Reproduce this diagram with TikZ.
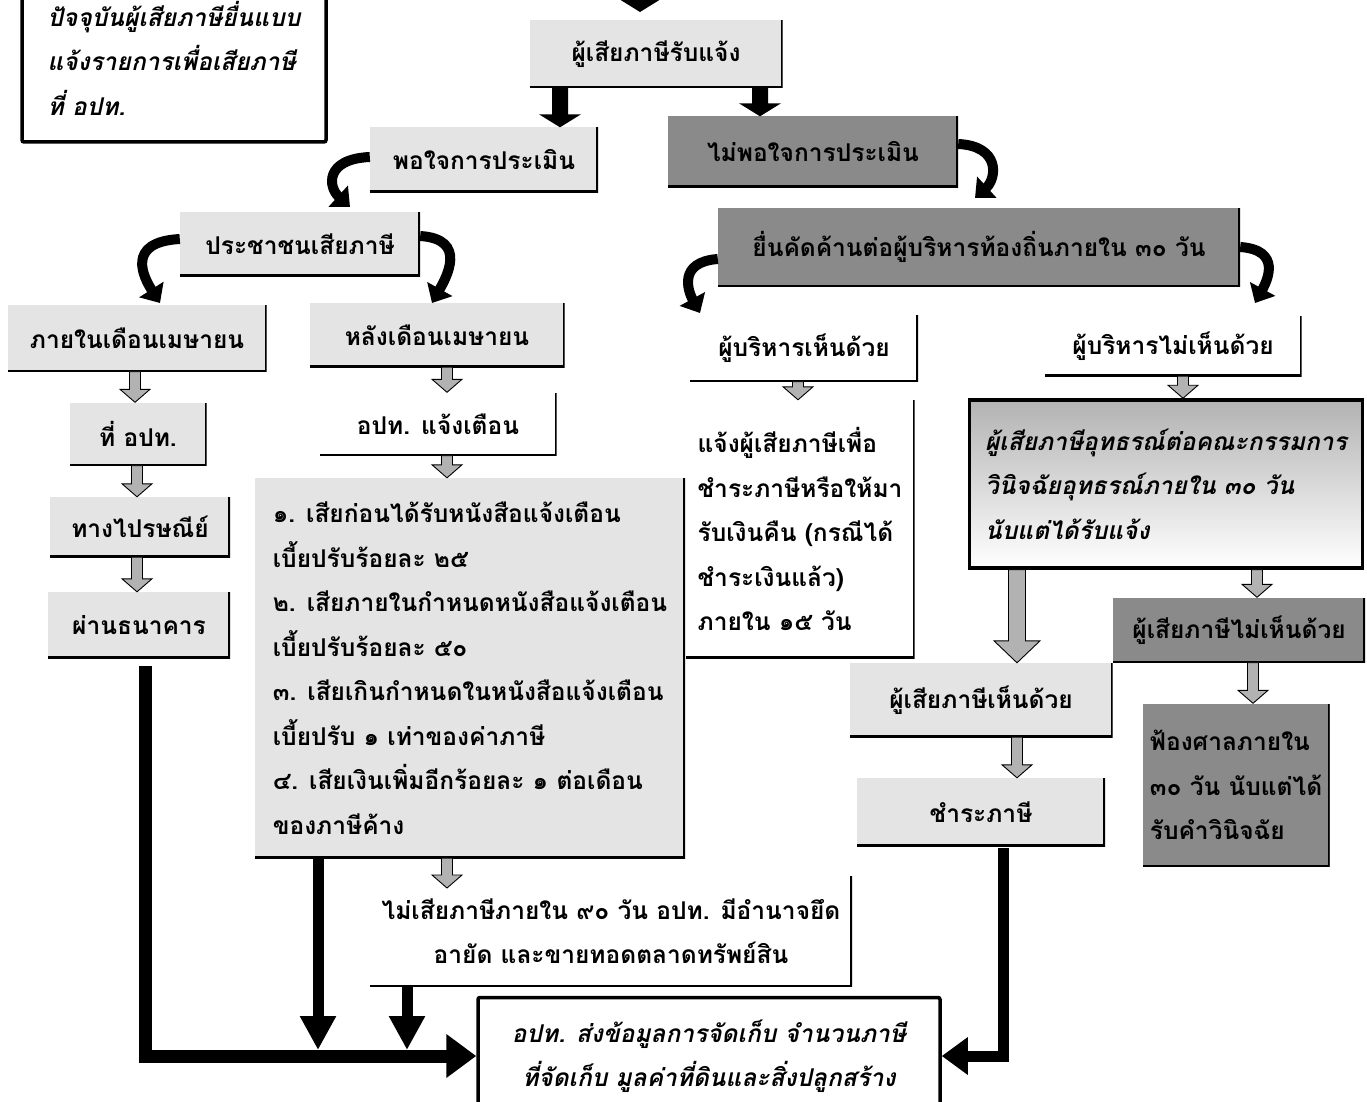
\documentclass[tikz,border=0pt]{standalone}
\usepackage{fontspec}
\newfontfamily\thaifont[Script=Thai]{Loma}
\usetikzlibrary{arrows.meta,calc}
\definecolor{boxlight}{HTML}{E4E4E4}
\definecolor{boxdark}{HTML}{8A8A8A}
\definecolor{arrowgrey}{HTML}{B2B2B2}
\tikzset{
  base/.style={rectangle, inner sep=0pt, align=left,
    font=\thaifont\bfseries\fontsize{24.5}{44.5}\selectfont},
  edgelines/.style={path picture={\draw[line width=4pt]
      (path picture bounding box.north east) -- (path picture bounding box.south east)
      -- (path picture bounding box.south west);}},
  lightbox/.style={base, fill=boxlight, edgelines},
  darkbox/.style={base, fill=boxdark, edgelines},
  whitebox/.style={base, edgelines},
  framebox/.style={base, draw, line width=3.5pt, rounded corners=2pt, fill=white,
    font=\thaifont\bfseries\itshape\fontsize{24.5}{44.5}\selectfont},
  curvarrow/.style={line width=10pt, -{Triangle[width=28pt,length=16pt]}},
  feedline/.style={line width=11pt, -{Triangle[width=34pt,length=34pt]}},
  mainline/.style={line width=13pt, -{Triangle[width=42pt,length=30pt]}},
}
% hollow grey down arrow: #1 x (pt), #2 from node, #3 to node
\newcommand\harrowgen[7]{\path let \p1=(#2), \p2=(#3) in
  [draw=black, line width=0.9pt, fill=arrowgrey]
  (#1pt-#4,\y1) -- (#1pt+#4,\y1) -- (#1pt+#4,\y2+#6) -- (#1pt+#5,\y2+#6)
  -- (#1pt,\y2) -- (#1pt-#5,\y2+#6) -- (#1pt-#4,\y2+#6) -- cycle;}
\newcommand\harrow[3]{\harrowgen{#1}{#2}{#3}{5.5pt}{15pt}{13pt}{}}
% black block down arrow
\newcommand\barrow[3]{\path let \p1=(#2), \p2=(#3) in
  [fill=black]
  (#1pt-8pt,\y1) -- (#1pt+8pt,\y1) -- (#1pt+8pt,\y2+13pt) -- (#1pt+21pt,\y2+13pt)
  -- (#1pt,\y2) -- (#1pt-21pt,\y2+13pt) -- (#1pt-8pt,\y2+13pt) -- cycle;}
\begin{document}
\begin{tikzpicture}[x=1pt,y=-1pt]
\clip (0,0) rectangle (1367,1102);
\fill[white] (0,0) rectangle (1367,1102);

% ---------- nodes ----------
\node[framebox, minimum width=304pt, minimum height=168pt] (tl) at (174,58)
  {ปัจจุบันผู้เสียภาษียื่นแบบ\\แจ้งรายการเพื่อเสียภาษี\\ที่ อปท.};
\coordinate (topin) at (640,-40);
\node[lightbox, minimum width=253pt, minimum height=68pt] (rb) at (656,54) {ผู้เสียภาษีรับแจ้ง};
\node[lightbox, minimum width=228pt, minimum height=65pt] (pj) at (484,160) {พอใจการประเมิน};
\node[darkbox, minimum width=290pt, minimum height=71pt] (npj) at (813,152) {ไม่พอใจการประเมิน};
\node[lightbox, minimum width=240pt, minimum height=64pt] (ps) at (300,244) {ประชาชนเสียภาษี};
\node[lightbox, minimum width=259pt, minimum height=67pt] (in4) at (137,338) {ภายในเดือนเมษายน};
\node[lightbox, minimum width=255pt, minimum height=64pt] (af4) at (437,335) {หลังเดือนเมษายน};
\node[lightbox, minimum width=137pt, minimum height=63pt] (ap) at (138,434) {ที่ อปท.};
\node[whitebox, minimum width=237pt, minimum height=63pt] (aw) at (438,424) {อปท. แจ้งเตือน};
\node[lightbox, minimum width=180pt, minimum height=60pt] (post) at (140,527) {ทางไปรษณีย์};
\node[lightbox, minimum width=182pt, minimum height=66pt] (bank) at (139,625) {ผ่านธนาคาร};
\node[lightbox, minimum width=430pt, minimum height=380pt] (list) at (470,668)
  {๑. เสียก่อนได้รับหนังสือแจ้งเตือน\\เบี้ยปรับร้อยละ ๒๕\\๒. เสียภายในกำหนดหนังสือแจ้งเตือน\\เบี้ยปรับร้อยละ ๕๐\\๓. เสียเกินกำหนดในหนังสือแจ้งเตือน\\เบี้ยปรับ ๑ เท่าของค่าภาษี\\๔. เสียเงินเพิ่มอีกร้อยละ ๑ ต่อเดือน\\ของภาษีค้าง};
\node[whitebox, minimum width=482pt, minimum height=111pt, align=center] (nopay) at (611,931)
  {ไม่เสียภาษีภายใน ๙๐ วัน อปท. มีอำนาจยึด\\อายัด และขายทอดตลาดทรัพย์สิน};
\node[framebox, minimum width=462pt, minimum height=117pt, align=center] (fin) at (709,1056)
  {อปท. ส่งข้อมูลการจัดเก็บ จำนวนภาษี\\ที่จัดเก็บ มูลค่าที่ดินและสิ่งปลูกสร้าง};

\node[darkbox, minimum width=522pt, minimum height=79pt] (obj) at (979,247) {ยื่นคัดค้านต่อผู้บริหารท้องถิ่นภายใน ๓๐ วัน};
\node[whitebox, minimum width=228pt, minimum height=67pt] (agree) at (804,348) {ผู้บริหารเห็นด้วย};
\node[whitebox, minimum width=257pt, minimum height=60pt] (disagree) at (1173,346) {ผู้บริหารไม่เห็นด้วย};
\node[whitebox, minimum width=229pt, minimum height=258pt] (notify) at (800,529)
  {แจ้งผู้เสียภาษีเพื่อ\\ชำระภาษีหรือให้มา\\รับเงินคืน (กรณีได้\\ชำระเงินแล้ว)\\ภายใน ๑๕ วัน};
\node[framebox, minimum width=393pt, minimum height=168pt, rounded corners=0pt,
  top color=gray!60, bottom color=white] (appeal) at (1166,484)
  {ผู้เสียภาษีอุทธรณ์ต่อคณะกรรมการ\\วินิจฉัยอุทธรณ์ภายใน ๓๐ วัน\\นับแต่ได้รับแจ้ง};
\node[lightbox, minimum width=263pt, minimum height=74pt] (tagree) at (981,700) {ผู้เสียภาษีเห็นด้วย};
\node[darkbox, minimum width=252pt, minimum height=65pt] (tdis) at (1239,630) {ผู้เสียภาษีไม่เห็นด้วย};
\node[lightbox, minimum width=248pt, minimum height=68pt] (pay) at (981,812) {ชำระภาษี};
\node[darkbox, minimum width=187pt, minimum height=163pt] (court) at (1236,785)
  {ฟ้องศาลภายใน\\๓๐ วัน นับแต่ได้\\รับคำวินิจฉัย};

% ---------- black block arrows ----------
\coordinate (topend) at (640,12);
\barrow{640}{topin}{topend}
\barrow{560}{rb.south}{pj.north}
\barrow{760}{rb.south}{npj.north}

% ---------- curved arrows ----------
\coordinate (c1) at (350,207);
\coordinate (c2) at (975,198);
\coordinate (c3) at (160,303);
\coordinate (c4) at (432,303);
\coordinate (c5) at (700,313);
\coordinate (c6) at (1255,303);
\draw[curvarrow] ([yshift=3pt]pj.west) .. controls +(-45,2) and +(-22,-20) .. (c1);
\draw[curvarrow] ([yshift=8pt]npj.east) .. controls +(42,2) and +(22,-20) .. (c2);
\draw[curvarrow] ([yshift=5pt]ps.west) .. controls +(-55,3) and +(-16,-25) .. (c3);
\draw[curvarrow] ([yshift=8pt]ps.east) .. controls +(48,3) and +(14,-25) .. (c4);
\draw[curvarrow] ([yshift=-12pt]obj.west) .. controls +(-40,3) and +(-12,-22) .. (c5);
\draw[curvarrow] (obj.east) .. controls +(42,3) and +(12,-22) .. (c6);

% ---------- hollow grey arrows ----------
\harrow{135}{in4.south}{ap.north}
\harrow{447}{af4.south}{aw.north}
\harrow{137}{ap.south}{post.north}
\harrow{137}{post.south}{bank.north}
\harrow{447}{aw.south}{list.north}
\coordinate (np1) at (447,888);
\harrow{447}{list.south}{np1}
\harrow{798}{agree.south}{notify.north}
\harrow{1183}{disagree.south}{appeal.north}
\harrowgen{1017}{appeal.south}{tagree.north}{8.5pt}{23pt}{22pt}{}
\harrow{1257}{appeal.south}{tdis.north}
\harrow{1017}{tagree.south}{pay.north}
\harrow{1253}{tdis.south}{court.north}

% ---------- black feed lines ----------
\coordinate (j1) at (318,1050);
\coordinate (j2) at (407,1050);
\draw[mainline] (bank.south) ++(6,8) |- (fin.west);
\draw[feedline] (list.south -| j1) -- (j1);
\draw[feedline] (nopay.south -| j2) -- (j2);
\draw[line width=11pt, -{Triangle[width=36pt,length=26pt]}] ([xshift=22pt,yshift=-2pt]pay.south) |- (fin.east);
\end{tikzpicture}
\end{document}
